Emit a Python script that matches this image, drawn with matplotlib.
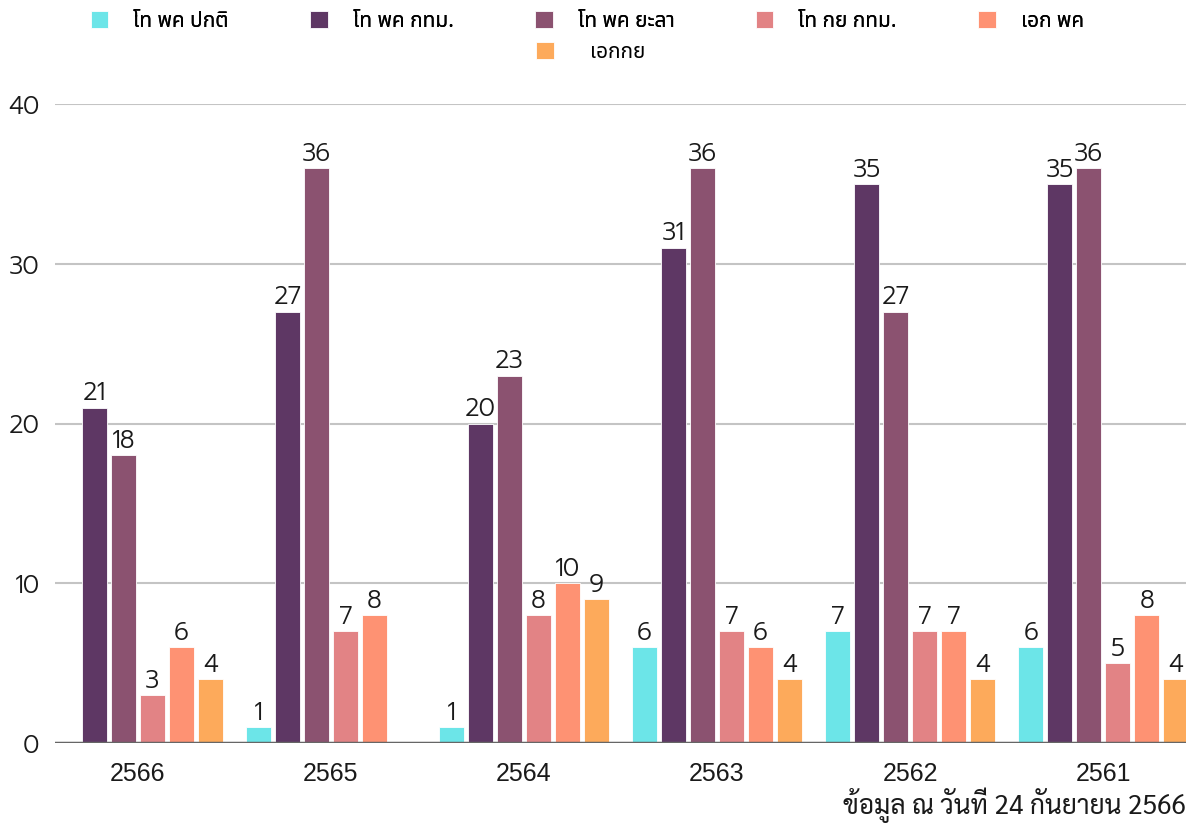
import numpy as np
import matplotlib
matplotlib.use("Agg")
import matplotlib.pyplot as plt

years = ["2566", "2565", "2564", "2563", "2562", "2561"]
series = ["โท พค ปกติ", "โท พค กทม.", "โท พค ยะลา", "โท กย กทม.", "เอก พค", "เอกกย"]
colors = ["#6ce5e8", "#5e3764", "#8b5270", "#e28385", "#fe9273", "#fdaa5b"]

# one list per series, in year order (0 = no bar)
tho_pk_normal = [0, 1, 1, 6, 7, 6]
tho_pk_bkk = [21, 27, 20, 31, 35, 35]
tho_pk_yala = [18, 36, 23, 36, 27, 36]
tho_ky_bkk = [3, 7, 8, 7, 7, 5]
ek_pk = [6, 8, 10, 6, 7, 8]
ek_ky = [4, 0, 9, 4, 4, 4]
values = [tho_pk_normal, tho_pk_bkk, tho_pk_yala, tho_ky_bkk, ek_pk, ek_ky]

note = "ข้อมูล ณ วันที่ 24 กันยายน 2566"

num_font = ["Prompt", "DejaVu Sans"]
thai_font = ["Noto Sans Thai", "DejaVu Sans"]

fig = plt.figure(figsize=(11.91, 8.23), dpi=100)
ax = fig.add_axes([0.046, 0.0972, 0.950, 0.7764])

x = np.arange(len(years))
slot = 0.150
width = 0.130
bars = []
for k, (name, vals, c) in enumerate(zip(series, values, colors)):
    h = np.array(vals, dtype=float)
    b = ax.bar(x + (k - 2.5) * slot, h, width, color=c, label=name,
               edgecolor="white", linewidth=0.6, zorder=3)
    bars.append(b)
    for rect, v in zip(b, vals):
        if v > 0:
            ax.annotate(str(v), (rect.get_x() + rect.get_width() / 2, v),
                        xytext=(0, 1), textcoords="offset points",
                        ha="center", va="bottom", fontsize=18, weight=300,
                        family=num_font, color="#1a1a1a", zorder=4)

ax.set_xlim(-0.43, 5.43)
ax.set_ylim(0, 40)
ax.set_yticks([0, 10, 20, 30, 40])
ax.yaxis.grid(True, color="#c4c4c4", linewidth=1.5, zorder=0)
ax.axhline(0, color="#666666", linewidth=2.5, zorder=5)
for s in ax.spines.values():
    s.set_visible(False)
ax.tick_params(axis="both", length=0)
ax.tick_params(axis="y", pad=11, labelsize=18, labelcolor="#1a1a1a")
ax.tick_params(axis="x", pad=14, labelsize=18, labelcolor="#1a1a1a")
for t in ax.get_yticklabels():
    t.set_family(num_font)
    t.set_weight(300)
ax.set_xticks(x)
ax.set_xticklabels(years, family=["Liberation Sans", "DejaVu Sans"])

# legend: five in the first row, the last one centred below
leg1 = fig.legend(bars[:5], series[:5], loc="upper center", ncol=5,
                  bbox_to_anchor=(0.493, 1.01), frameon=False,
                  prop={"family": thai_font, "size": 15},
                  handlelength=0.85, handleheight=0.85, handletextpad=1.2,
                  columnspacing=3.9)
fig.add_artist(leg1)
fig.legend(bars[5:], series[5:], loc="upper center", ncol=1,
           bbox_to_anchor=(0.496, 0.972), frameon=False,
           prop={"family": thai_font, "size": 15},
           handlelength=0.85, handleheight=0.85, handletextpad=1.7)

fig.text(0.996, 0.022, note, ha="right", va="center", fontsize=19,
         family=["Sarabun", "DejaVu Sans"], color="#1a1a1a")

fig.savefig("out.png", dpi=100)
